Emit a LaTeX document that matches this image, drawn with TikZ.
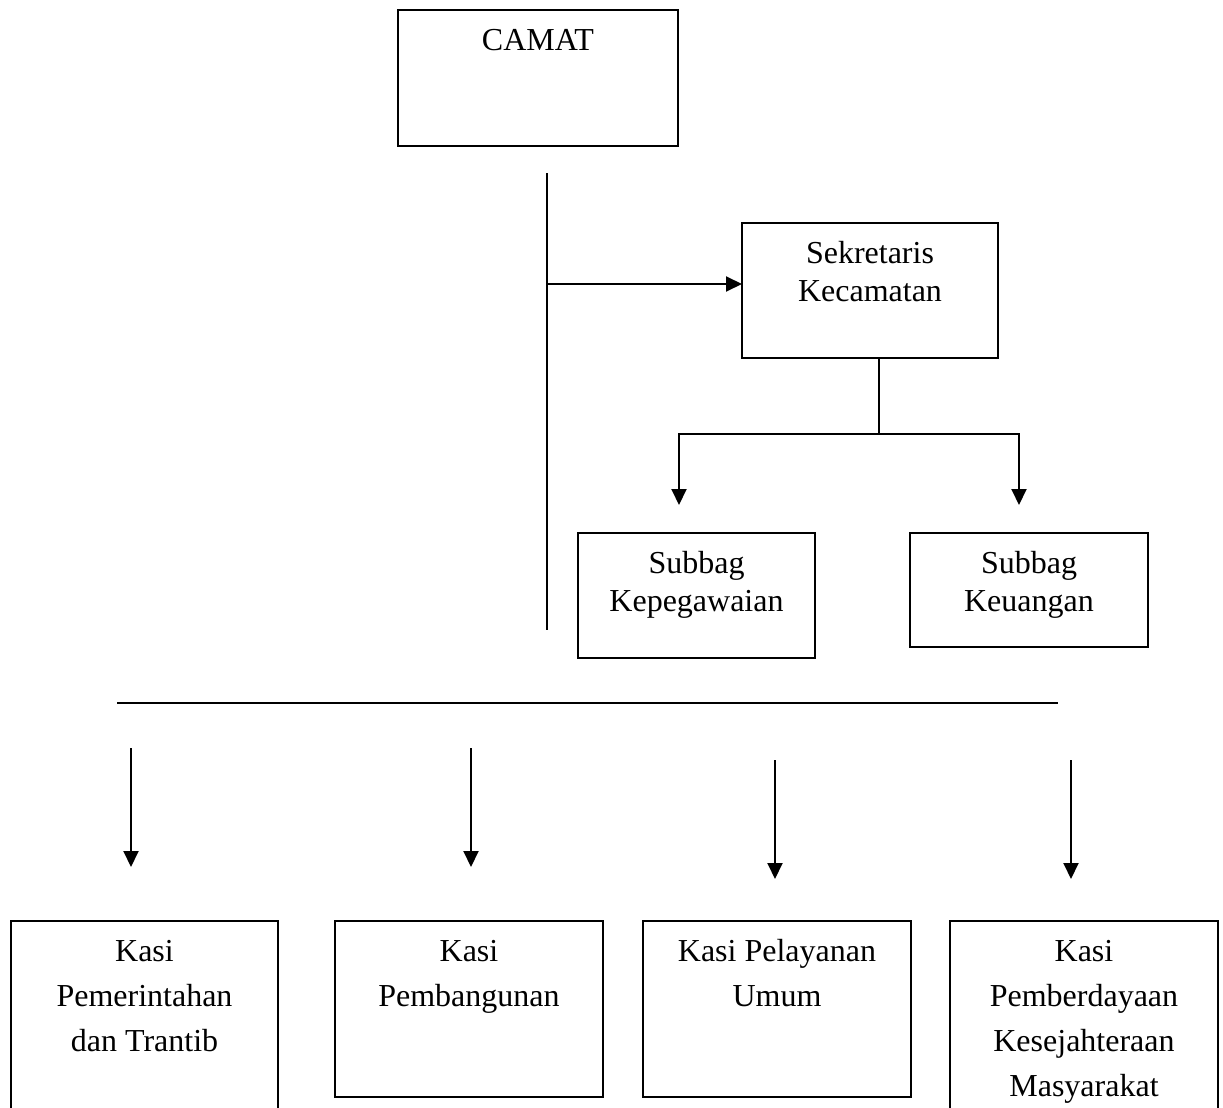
\documentclass[tikz,border=0pt]{standalone}
\usepackage{fontspec}
\setmainfont{Liberation Serif}
\usetikzlibrary{arrows.meta}
\newcommand{\isi}[4]{\parbox[c][#2][t]{#1}{\centering\fontsize{16}{#3}\selectfont\rule{0pt}{20pt}#4}}
\tikzset{
    BX/.style ={rectangle, draw, line width=1pt, inner sep=0pt, outer sep=0pt, anchor=north west},
    LN/.style ={line width=1pt},
    AR/.style ={line width=1pt, -{Triangle[length=8pt,width=7.5pt]}}}

\begin{document}
\begin{tikzpicture}[x=0.5pt, y=-0.5pt]
        \clip (0,0) rectangle (1223,1108);
        % kotak atas
        \node[BX] (camat)  at (398,10)  {\isi{140pt}{68pt}{19.25pt}{CAMAT}};
        \node[BX] (sekre)  at (742,223) {\isi{128pt}{67.5pt}{19.25pt}{Sekretaris\\Kecamatan}};
        \node[BX] (kepeg)  at (578,533) {\isi{118.5pt}{62.5pt}{19.25pt}{Subbag\\Kepegawaian}};
        \node[BX] (keuang) at (910,533) {\isi{119pt}{57pt}{19.25pt}{Subbag\\Keuangan}};
        % kotak bawah
        \node[BX] (kasiA) at (11,921)  {\isi{133.5pt}{100pt}{22.5pt}{Kasi\\Pemerintahan\\dan Trantib}};
        \node[BX] (kasiB) at (335,921) {\isi{134pt}{88pt}{22.5pt}{Kasi\\Pembangunan}};
        \node[BX] (kasiC) at (643,921) {\isi{134pt}{88pt}{22.5pt}{Kasi Pelayanan\\Umum}};
        \node[BX] (kasiD) at (950,921) {\isi{134pt}{100pt}{22.5pt}{Kasi\\Pemberdayaan\\Kesejahteraan\\Masyarakat}};
        % garis
        \coordinate (v1) at (547,173);
        \coordinate (v2) at (547,630);
        \coordinate (v3) at (547,284);
        \draw[LN] (v1) -- (v2);
        \draw[AR] (v3) -- (v3 -| sekre.west);
        \coordinate (s1) at (879,434);
        \coordinate (ka) at (679,505);
        \coordinate (kb) at (1019,505);
        \draw[LN] (s1 |- sekre.south) -- (s1);
        \draw[AR] (s1) -| (ka);
        \draw[AR] (s1) -| (kb);
        \coordinate (h1) at (117,703);
        \coordinate (h2) at (1058,703);
        \draw[LN] (h1) -- (h2);
        \coordinate (a1) at (131,748);  \coordinate (b1) at (131,867);
        \coordinate (a2) at (471,748);  \coordinate (b2) at (471,867);
        \coordinate (a3) at (775,760);  \coordinate (b3) at (775,879);
        \coordinate (a4) at (1071,760); \coordinate (b4) at (1071,879);
        \draw[AR] (a1) -- (b1);
        \draw[AR] (a2) -- (b2);
        \draw[AR] (a3) -- (b3);
        \draw[AR] (a4) -- (b4);
\end{tikzpicture}
\end{document}
